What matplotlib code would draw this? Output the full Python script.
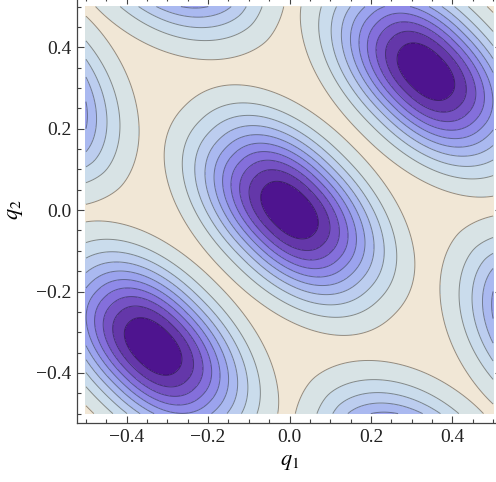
import numpy as np
import matplotlib
matplotlib.use("Agg")
import matplotlib.pyplot as plt
from matplotlib.colors import ListedColormap, BoundaryNorm

# wells: centre (q1, q2), depth, width along (1,-1) and along (1,1)
well_q1 = [0.0, 0.335, -0.335, -0.66, 0.66, -0.30, 0.30]
well_q2 = [0.0, 0.34, -0.335, 0.30, -0.30, 0.66, -0.66]
well_depth = [1.1, 1.1, 1.1, 1.1, 1.1, 1.1, 1.1]
well_long = [0.178, 0.178, 0.178, 0.1575, 0.1575, 0.1575, 0.1575]
well_short = [0.107, 0.107, 0.107, 0.0997, 0.0997, 0.0997, 0.0997]
well_long_pow = [2.2, 2.2, 2.2, 2.0, 2.0, 2.0, 2.0]
well_short_pow = [2.18, 2.18, 2.18, 1.81, 1.81, 1.81, 1.81]

levels = [-2.0, -1.0, -0.9, -0.8, -0.7, -0.6, -0.5, -0.4, -0.3, -0.2, -0.1, 1.0]
band_colors = ["#4e148f", "#6437a9", "#7552c3", "#846fdb", "#8f8ae8", "#9ba3ee",
               "#aab9f0", "#bccdef", "#cadcec", "#d8e3e5", "#f1e7d6"]
tick_vals = [-0.4, -0.2, 0.0, 0.2, 0.4]
tick_text = ["\u22120.4", "\u22120.2", "0.0", "0.2", "0.4"]

q1 = np.linspace(-0.5, 0.5, 501)
q2 = np.linspace(-0.5, 0.5, 501)
Q1, Q2 = np.meshgrid(q1, q2)
acc = np.zeros_like(Q1)
for cx, cy, d, sl, ss, pl, ps in zip(well_q1, well_q2, well_depth, well_long,
                                     well_short, well_long_pow, well_short_pow):
    u = ((Q1 - cx) - (Q2 - cy)) / np.sqrt(2)
    v = ((Q1 - cx) + (Q2 - cy)) / np.sqrt(2)
    g = d * np.exp(-0.5 * (np.abs(u / sl)**pl + np.abs(v / ss)**ps))
    acc += g**4
V = -acc**0.25

plt.rcParams['font.family'] = ['Liberation Serif', 'DejaVu Serif']
plt.rcParams['mathtext.fontset'] = 'stix'

fig = plt.figure(figsize=(4.96, 4.82), dpi=100)
ax = fig.add_axes([0.1552, 0.1224, 0.857, 0.8834])
cmap = ListedColormap(band_colors)
norm = BoundaryNorm(levels, cmap.N)
ax.contourf(Q1, Q2, V, levels=levels, cmap=cmap, norm=norm)
ax.contour(Q1, Q2, V, levels=levels[1:-1], colors="k", alpha=0.4,
           linewidths=0.7, linestyles="solid")

ax.set_xlim(-0.522, 0.522)
ax.set_ylim(-0.523, 0.523)
ax.set_xticks(tick_vals)
ax.set_yticks(tick_vals)
ax.set_xticklabels(tick_text)
ax.set_yticklabels(tick_text)
ax.set_xticks(np.arange(-0.5, 0.501, 0.05), minor=True)
ax.set_yticks(np.arange(-0.5, 0.501, 0.05), minor=True)
ax.tick_params(which="both", direction="in", top=True, right=True, color="#444444", width=0.8)
ax.tick_params(which="major", length=5, labelsize=14, pad=4, labelcolor="#222222")
ax.tick_params(which="minor", length=3)
for s in ax.spines.values():
    s.set_color("#444444")
    s.set_linewidth(0.9)

ax.set_xlabel("$q_1$", fontsize=16, labelpad=5)
ax.set_ylabel("$q_2$", fontsize=16, labelpad=8)

fig.savefig("out.png", dpi=100)
